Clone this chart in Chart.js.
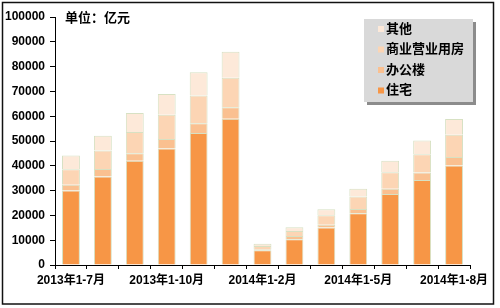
<!DOCTYPE html>
<html>
<head>
<meta charset="utf-8">
<script src="https://cdn.jsdelivr.net/npm/chart.js@4/dist/chart.umd.min.js"></script>
<style>
	html, body { margin: 0; padding: 0; background: #fff; }
	#wrap { width: 500px; height: 308px; position: relative; }
</style>
</head>
<body>
<div id="wrap"><canvas id="ChartTouzi" width="500" height="308"></canvas></div>
<script>
// --------------
// DATA
// --------------
const labels = ["2013年1-7月", "2013年1-8月", "2013年1-9月", "2013年1-10月", "2013年1-11月", "2013年1-12月",
	"2014年1-2月", "2014年1-3月", "2014年1-4月", "2014年1-5月", "2014年1-6月", "2014年1-7月", "2014年1-8月"];
const zhuzhai = [30000, 35700, 42000, 47000, 53200, 58950, 5900, 10400, 15100, 20900, 28600, 34300, 40100];
const bangonglou = [2400, 3000, 3100, 3800, 4000, 4650, 500, 1300, 1100, 1700, 2100, 3000, 3400];
const shangye = [6200, 7500, 8500, 9800, 11100, 11950, 1300, 2000, 3900, 5000, 6700, 7400, 9000];
const qita = [5600, 5900, 7700, 8400, 9400, 10450, 900, 1500, 2400, 3100, 4600, 5500, 6400];
const yTicks = [0, 10000, 20000, 30000, 40000, 50000, 60000, 70000, 80000, 90000, 100000];

const FONT = "'Liberation Sans', Arial, 'Noto Sans CJK SC', sans-serif";
const BORDER = "rgb(215,225,195)";

// outer frame, unit text and legend box (Excel style)
const framePlugin = {
	id: "frame",
	afterDraw: (chart) => {
		const ctx = chart.ctx;
		ctx.save();
		ctx.strokeStyle = "#111";
		ctx.lineWidth = 1.5;
		ctx.strokeRect(2.5, 2.5, 491, 301.5);

		ctx.fillStyle = "#000";
		ctx.font = "bold 13px " + FONT;
		ctx.textBaseline = "middle";
		ctx.fillText("单位：亿元", 65, 18);

		// legend
		const lx = 364, ly = 19, lw = 109, lh = 83;
		ctx.fillStyle = "rgba(0,0,0,0.45)";
		ctx.fillRect(lx + 3, ly + 3, lw, lh);
		ctx.fillStyle = "#D9D9D9";
		ctx.fillRect(lx, ly, lw, lh);
		const items = chart.data.datasets.slice().reverse();
		items.forEach((ds, i) => {
			const y = 29 + i * 20.5;
			ctx.fillStyle = ds.backgroundColor;
			ctx.fillRect(378, y - 3, 6, 6);
			ctx.fillStyle = "#000";
			ctx.font = "bold 13px " + FONT;
			ctx.fillText(ds.label, 386, y);
		});
		ctx.restore();
	},
};

const dataTouzi = {
	labels: labels,
	datasets: [
		{ label: "住宅", data: zhuzhai, backgroundColor: "#F79646" },
		{ label: "办公楼", data: bangonglou, backgroundColor: "#FAC090" },
		{ label: "商业营业用房", data: shangye, backgroundColor: "#FCD5B4" },
		{ label: "其他", data: qita, backgroundColor: "#FDE9D9" },
	].map((d) => Object.assign(d, {
		borderColor: BORDER,
		borderWidth: 1,
		categoryPercentage: 1,
		barPercentage: 0.56,
	})),
};

const configTouzi = {
	type: "bar",
	data: dataTouzi,
	options: {
		responsive: false,
		animation: false,
		layout: { padding: { left: 0, right: 30, top: 17, bottom: 0 } },
		plugins: {
			legend: { display: false },
			tooltip: { enabled: false },
		},
		scales: {
			x: {
				stacked: true,
				afterFit: (scale) => { scale.height = 43; },
				border: { color: "#000", width: 1 },
				grid: { drawOnChartArea: false, drawTicks: true, tickLength: 4, color: "#000", offset: true },
				ticks: {
					autoSkip: false,
					maxRotation: 0,
					padding: 4,
					color: "#000",
					font: { family: FONT, size: 12, weight: "bold" },
					callback: function (val, idx) { return idx % 3 === 0 ? this.getLabelForValue(val) : ""; },
				},
			},
			y: {
				stacked: true,
				min: 0,
				max: 100000,
				afterFit: (scale) => { scale.width = 55; },
				afterBuildTicks: (scale) => { scale.ticks = yTicks.map((v) => ({ value: v })); },
				border: { color: "#000", width: 1 },
				grid: { drawOnChartArea: false, drawTicks: true, tickLength: 5, color: "#000" },
				ticks: {
					padding: 5,
					color: "#000",
					font: { family: FONT, size: 12, weight: "bold" },
					callback: (v) => String(v),
				},
			},
		},
	},
	plugins: [framePlugin],
};

const ChartTouzi = new Chart(document.getElementById("ChartTouzi"), configTouzi);
</script>
</body>
</html>
